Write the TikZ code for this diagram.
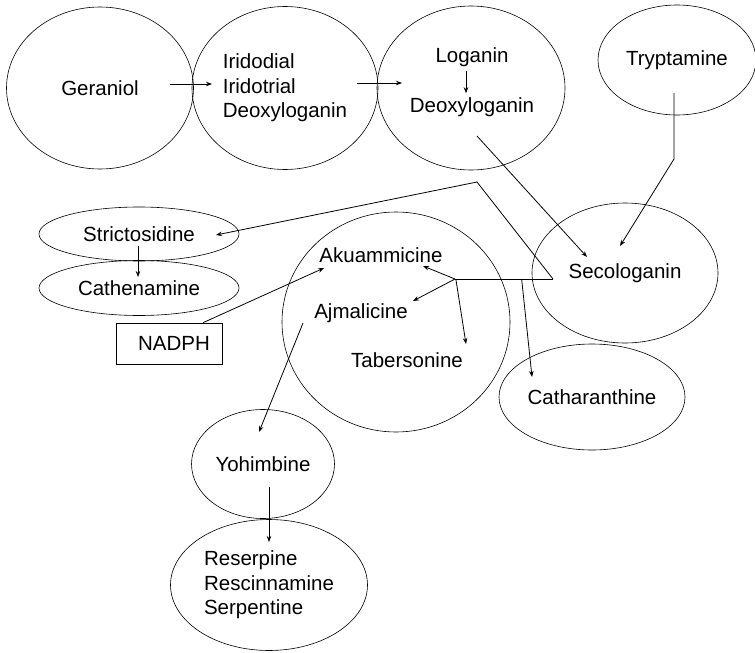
\documentclass[tikz,border=0pt]{standalone}
\usepackage{fontspec}
\setmainfont{Liberation Sans}
\usetikzlibrary{arrows.meta,shapes.geometric,calc}
\tikzset{
  blob/.style={ellipse,draw=black,line width=0.6pt,inner sep=0pt,align=left},
  lbl/.style={inner sep=1pt},
  nbox/.style={draw=black,line width=0.6pt,minimum width=106pt,minimum height=41pt,inner sep=0pt},
  arr/.style={-{Stealth[length=6pt,width=4.5pt]},line width=0.8pt},
  ln/.style={line width=0.8pt},
}

\begin{document}
\begin{tikzpicture}[x=1pt,y=-1pt,font=\fontsize{20.5}{24.5}\selectfont]
\useasboundingbox (0,0) rectangle (755,653);
% top row
\node[blob,minimum width=187pt,minimum height=162pt] (ger) at (100,88) {Geraniol};
\node[blob,minimum width=186pt,minimum height=163pt] (iri) at (285,88) {Iridodial\\Iridotrial\\Deoxyloganin};
\node[blob,minimum width=188pt,minimum height=164pt] (lgc) at (471,88) {};
\node[lbl] (lgt) at (472,57) {Loganin};
\node[lbl] (dxt) at (472,107) {Deoxyloganin};
\node[blob,minimum width=158pt,minimum height=110pt] (try) at (677,60) {Tryptamine};
% middle
\node[blob,minimum width=200pt,minimum height=54pt] (str) at (139,234) {Strictosidine};
\node[blob,minimum width=200pt,minimum height=55pt] (cat) at (139,288) {Cathenamine};
\node[blob,minimum width=186pt,minimum height=140pt] (sec) at (625,273) {Secologanin};
\node[blob,minimum width=228pt,minimum height=220pt] (alk) at (396,322) {};
\node[lbl] (aku) at (381,255) {Akuammicine};
\node[lbl] (ajm) at (361,313) {Ajmalicine};
\node[lbl] (tab) at (407,360) {Tabersonine};
\node[blob,minimum width=186pt,minimum height=106pt] (cth) at (592,397) {Catharanthine};
\node[nbox] (nad) at (169,343.5) {\hspace*{10pt}NADPH};
% bottom
\node[blob,minimum width=143pt,minimum height=109pt] (yoh) at (263,464) {Yohimbine};
\node[blob,minimum width=197pt,minimum height=131pt] (res) at (269,585) {Reserpine\\Rescinnamine\\Serpentine};

\coordinate (hub) at ($(sec)+(-72,6)$);
\coordinate (jn) at ($(sec)+(-170,6)$);
\coordinate (peak) at ($(lgc)+(6,94)$);
\coordinate (bend) at ($(try)+(-3,99)$);

\draw[arr] ($(ger)+(70,-4)$) -- ($(iri)+(-73,-4)$);
\draw[arr] ($(iri)+(72,-5)$) -- ($(lgc)+(-69,-5)$);
\draw[arr] ([xshift=-6pt,yshift=-3pt]lgt.south) -- ([xshift=-6pt,yshift=3pt]dxt.north);
\draw[arr] ($(lgc)+(6,48)$) -- ($(sec)+(-38,-16)$);
\draw[arr] ($(try)+(-3,33)$) -- (bend) -- ($(sec)+(-5,-27)$);
\draw[arr] (hub) -- (peak) -- ($(str)+(77,1)$);
\draw[ln] (hub) -- (jn);
\draw[arr] (jn) -- ($(aku)+(42,11)$);
\draw[arr] (jn) -- ($(ajm)+(52,-12)$);
\draw[arr] ($(jn)+(1,1)$) -- ($(tab)+(59,-16)$);
\draw[arr] ($(jn)!0.68!(hub)$) -- ($(cth)+(-60,-20)$);
\draw[arr] ($(str)+(-1,12)$) -- ($(cat)+(-1,-11)$);
\draw[arr] ([xshift=34pt]nad.north) -- ($(aku)+(-57,13)$);
\draw[arr] ($(ajm)+(-58,10)$) -- ($(yoh)+(-4,-32)$);
\draw[arr] ($(yoh)+(6,23)$) -- ($(res)+(0,-43)$);
\end{tikzpicture}
\end{document}
